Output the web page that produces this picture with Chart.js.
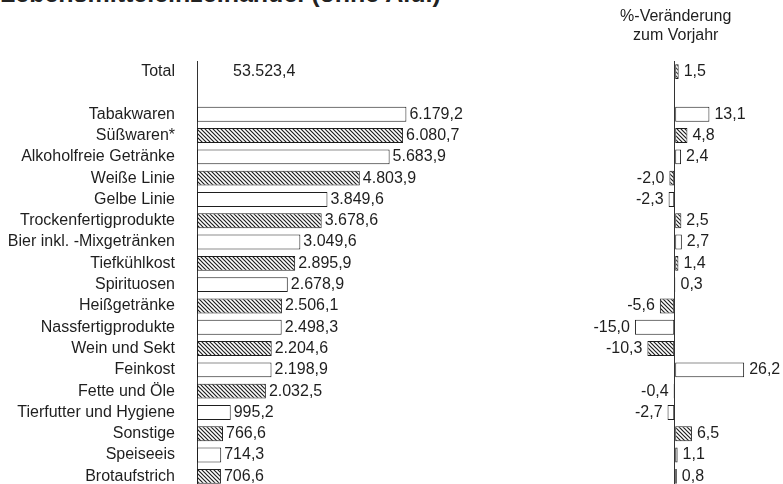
<!DOCTYPE html>
<html lang="de">
<head>
<meta charset="utf-8">
<script src="https://cdn.jsdelivr.net/npm/chart.js@4.4.0/dist/chart.umd.min.js"></script>
<style>
    html, body { margin: 0; padding: 0; background: #fff; overflow: hidden; }
    #wrap { position: relative; width: 783px; height: 484px; overflow: hidden; }
    canvas { position: absolute; left: 0; top: 0; }
    #title {
        position: absolute; left: 0; top: -19px;
        font: bold 25px "Liberation Sans", Arial, sans-serif;
        line-height: 25px; color: #222; white-space: nowrap;
    }
</style>
</head>
<body>
<div id="wrap">
    <div id="title">Lebensmitteleinzelhandel (ohne Aldi)</div>
    <canvas id="umsatzChart" width="783" height="495"></canvas>
    <canvas id="changeChart" width="783" height="487"></canvas>
</div>
<script>
/* ================= DATA ================= */
const totalLabel = "Total";
const totalUmsatz = 53523.4;
const totalVeraenderung = 1.5;

const categories = [
    "Tabakwaren", "Süßwaren*", "Alkoholfreie Getränke", "Weiße Linie",
    "Gelbe Linie", "Trockenfertigprodukte", "Bier inkl. -Mixgetränken",
    "Tiefkühlkost", "Spirituosen", "Heißgetränke", "Nassfertigprodukte",
    "Wein und Sekt", "Feinkost", "Fette und Öle", "Tierfutter und Hygiene",
    "Sonstige", "Speiseeis", "Brotaufstrich"
];
const umsatz = [
    6179.2, 6080.7, 5683.9, 4803.9, 3849.6, 3678.6, 3049.6, 2895.9, 2678.9,
    2506.1, 2498.3, 2204.6, 2198.9, 2032.5, 995.2, 766.6, 714.3, 706.6
];
const veraenderung = [
    13.1, 4.8, 2.4, -2.0, -2.3, 2.5, 2.7, 1.4, 0.3,
    -5.6, -15.0, -10.3, 26.2, -0.4, -2.7, 6.5, 1.1, 0.8
];
const headerLines = ["%-Veränderung", "zum Vorjahr"];

/* ================= ROWS (Total + Leerzeile + Kategorien) ================= */
const rowLabels = [totalLabel, "", ...categories];
const leftData = [null, null, ...umsatz];
const rightData = [totalVeraenderung, null, ...veraenderung];
const rowHatched = [true, false, ...categories.map((_, i) => i % 2 === 1)];

/* ================= HELPERS ================= */
const FONT = '"Liberation Sans", Arial, sans-serif';
const INK = "#1e1e1e";

function fmt(v) {
    const [int, dec] = Math.abs(v).toFixed(1).split(".");
    return (v < 0 ? "-" : "") + int.replace(/\B(?=(\d{3})+(?!\d))/g, ".") + "," + dec;
}

function makeHatch() {
    const c = document.createElement("canvas");
    c.width = 4; c.height = 4;
    const g = c.getContext("2d");
    g.fillStyle = "#fff";
    g.fillRect(0, 0, 4, 4);
    g.strokeStyle = INK;
    g.lineWidth = 1.2;
    g.beginPath();
    g.moveTo(-1, -1); g.lineTo(5, 5);
    g.moveTo(-1, 3); g.lineTo(1, 5);
    g.moveTo(3, -1); g.lineTo(5, 1);
    g.stroke();
    return g.createPattern(c, "repeat");
}
const hatch = makeHatch();
const fills = rowHatched.map(h => (h ? hatch : "#fff"));

/* ================= PLUGINS ================= */
const leftLabels = {
    id: "leftLabels",
    afterDatasetsDraw(chart) {
        const { ctx, scales: { x, y } } = chart;
        const meta = chart.getDatasetMeta(0);
        ctx.save();
        ctx.font = "16px " + FONT;
        ctx.fillStyle = INK;
        ctx.textBaseline = "middle";
        ctx.textAlign = "left";
        meta.data.forEach((bar, i) => {
            if (leftData[i] == null) return;
            ctx.fillText(fmt(leftData[i]), bar.x + 3, bar.y);
        });
        // Total wird nicht als Balken gezeichnet, nur der Wert
        ctx.fillText(fmt(totalUmsatz), x.left + 36, y.getPixelForValue(0));
        ctx.restore();
    }
};

const rightLabels = {
    id: "rightLabels",
    afterDatasetsDraw(chart) {
        const { ctx, scales: { x } } = chart;
        const meta = chart.getDatasetMeta(0);
        ctx.save();
        ctx.font = "16px " + FONT;
        ctx.fillStyle = INK;
        ctx.textBaseline = "middle";
        meta.data.forEach((bar, i) => {
            const v = rightData[i];
            if (v == null) return;
            if (v >= 0) {
                ctx.textAlign = "left";
                ctx.fillText(fmt(v), bar.x + 5, bar.y);
            } else {
                ctx.textAlign = "right";
                ctx.fillText(fmt(v), bar.x - 5, bar.y);
            }
        });
        ctx.textAlign = "center";
        ctx.textBaseline = "alphabetic";
        const cx = x.getPixelForValue(0) + 1;
        ctx.fillText(headerLines[0], cx, 20.5);
        ctx.fillText(headerLines[1], cx, 39.5);
        ctx.restore();
    }
};

/* ================= CHARTS ================= */
const barStyle = {
    backgroundColor: fills,
    borderColor: INK,
    borderWidth: 1,
    borderSkipped: false,
    categoryPercentage: 1,
    barPercentage: 0.7
};

new Chart(document.getElementById("umsatzChart"), {
    type: "bar",
    data: { labels: rowLabels, datasets: [{ data: leftData, ...barStyle }] },
    options: {
        indexAxis: "y",
        responsive: false,
        animation: false,
        layout: { padding: { top: 61, right: 281, bottom: 0, left: 0 } },
        plugins: { legend: { display: false }, tooltip: { enabled: false } },
        scales: {
            x: { display: false, min: 0, max: 9000 },
            y: {
                afterFit(s) { s.width = 197; },
                // tickLength only shifts the labels (grid itself is hidden)
                grid: { display: false, drawTicks: true, tickLength: 22 },
                border: { display: true, color: "#333", width: 1 },
                ticks: {
                    autoSkip: false, padding: 0, color: INK,
                    font: { family: FONT, size: 16, lineHeight: 1 }
                }
            }
        }
    },
    plugins: [leftLabels]
});

new Chart(document.getElementById("changeChart"), {
    type: "bar",
    data: { labels: rowLabels, datasets: [{ data: rightData, ...barStyle }] },
    options: {
        indexAxis: "y",
        responsive: false,
        animation: false,
        layout: { padding: { top: 61, right: 2.3, bottom: 0, left: 595.2 } },
        plugins: { legend: { display: false }, tooltip: { enabled: false } },
        scales: {
            x: {
                min: -30, max: 40,
                ticks: { display: false, stepSize: 10 },
                border: { display: false },
                grid: {
                    drawTicks: false,
                    lineWidth: 1,
                    color: c => (c.tick && c.tick.value === 0 ? "#333" : "transparent")
                }
            },
            y: { display: false, offset: true }
        }
    },
    plugins: [rightLabels]
});
</script>
</body>
</html>
